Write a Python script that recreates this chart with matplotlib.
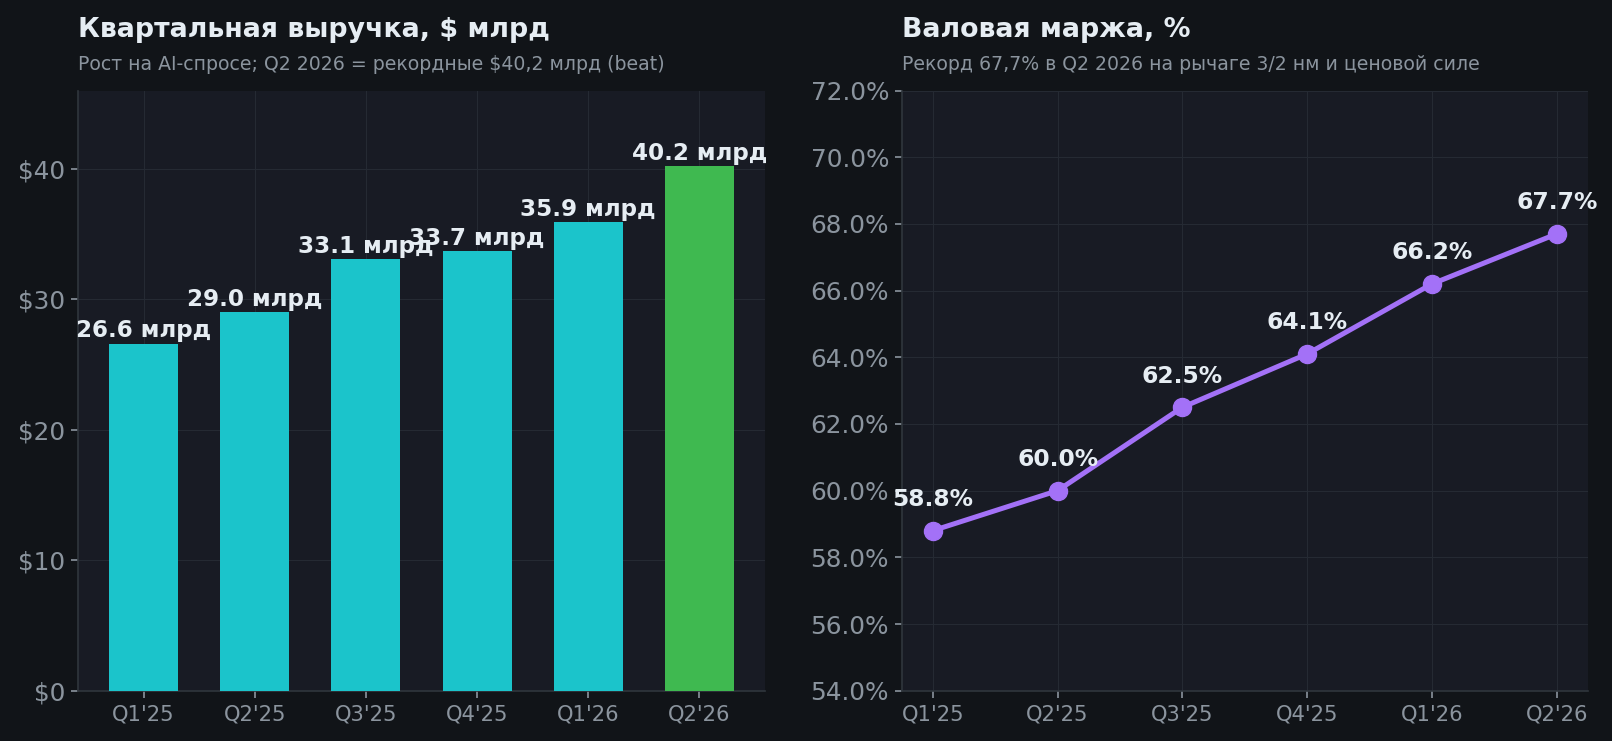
import matplotlib
matplotlib.use("Agg")
import matplotlib.pyplot as plt
from matplotlib.ticker import FuncFormatter

quarters = ["Q1'25", "Q2'25", "Q3'25", "Q4'25", "Q1'26", "Q2'26"]
revenue = [26.6, 29.0, 33.1, 33.7, 35.9, 40.2]
margin = [58.8, 60.0, 62.5, 64.1, 66.2, 67.7]

BG = "#111418"
AX_BG = "#181b24"
GRID = "#252a33"
SPINE = "#30363d"
TICK = "#8b949e"
WHITE = "#e6edf3"
CYAN = "#1bc4cb"
GREEN = "#3fb950"
PURPLE = "#a371f7"

plt.rcParams["font.family"] = ["DejaVu Sans"]

fig = plt.figure(figsize=(16.12, 7.41), dpi=100, facecolor=BG)
ax1 = fig.add_axes([78/1612, 50.3/741, 687/1612, 600.2/741])
ax2 = fig.add_axes([901.6/1612, 50.3/741, 686.4/1612, 600.2/741])

for ax in (ax1, ax2):
    ax.set_facecolor(AX_BG)
    ax.grid(True, color=GRID, linewidth=0.8)
    ax.set_axisbelow(True)
    for s in ("top", "right"):
        ax.spines[s].set_visible(False)
    for s in ("left", "bottom"):
        ax.spines[s].set_color(SPINE)
        ax.spines[s].set_linewidth(1.2)
    ax.tick_params(axis="x", colors=TICK, labelsize=15.2, length=5, width=1.2, pad=5)
    ax.tick_params(axis="y", colors=TICK, labelsize=17.8, length=5, width=1.2, pad=4)

x = list(range(len(quarters)))
colors = [CYAN] * (len(quarters) - 1) + [GREEN]
ax1.bar(x, revenue, width=0.62, color=colors, zorder=3)
ax1.set_ylim(0, 46)
ax1.set_yticks([0, 10, 20, 30, 40])
ax1.yaxis.set_major_formatter(FuncFormatter(lambda v, p: f"${v:.0f}"))
ax1.set_xticks(x)
ax1.set_xticklabels(quarters)
for xi, v in zip(x, revenue):
    ax1.text(xi, v + 0.1, f"{v:.1f} млрд", ha="center", va="bottom",
             color=WHITE, fontsize=16.6, fontweight="bold", zorder=4)

ax1.text(0, 1.0896, "Квартальная выручка, $ млрд", transform=ax1.transAxes,
         fontsize=19.3, fontweight="bold", color=WHITE, va="baseline")
ax1.text(0, 1.034, "Рост на AI-спросе; Q2 2026 = рекордные $40,2 млрд (beat)",
         transform=ax1.transAxes, fontsize=13.6, color=TICK, va="baseline")

ax2.plot(x, margin, color=PURPLE, linewidth=3.6, marker="o", markersize=13, zorder=3)
ax2.set_ylim(54, 72)
ax2.set_yticks([54, 56, 58, 60, 62, 64, 66, 68, 70, 72])
ax2.yaxis.set_major_formatter(FuncFormatter(lambda v, p: f"{v:.1f}%"))
ax2.set_xticks(x)
ax2.set_xticklabels(quarters)
for xi, v in zip(x, margin):
    ax2.annotate(f"{v:.1f}%", (xi, v), xytext=(0, 14), textcoords="offset points",
                 ha="center", va="bottom", color=WHITE, fontsize=16.8,
                 fontweight="bold", zorder=4)

ax2.text(0, 1.0896, "Валовая маржа, %", transform=ax2.transAxes,
         fontsize=19.3, fontweight="bold", color=WHITE, va="baseline")
ax2.text(0, 1.034, "Рекорд 67,7% в Q2 2026 на рычаге 3/2 нм и ценовой силе",
         transform=ax2.transAxes, fontsize=13.6, color=TICK, va="baseline")

fig.savefig("out.png", dpi=100, facecolor=BG)
